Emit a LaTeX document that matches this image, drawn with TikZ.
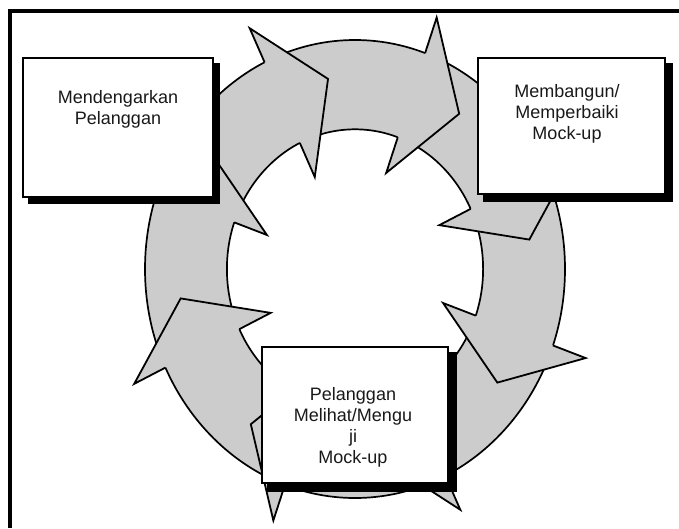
\documentclass[tikz,border=0pt]{standalone}
\usepackage{fontspec}
\setmainfont{Liberation Sans}
\definecolor{ringgrey}{RGB}{204,204,204}
\begin{document}
\begin{tikzpicture}[x=1pt,y=-1pt,
  ringline/.style={draw=black,line width=1.7pt},
  headline/.style={draw=black,line width=1.8pt,line join=miter},
  shadowbox/.style={fill=black},
  stepbox/.style={draw=black,fill=white,line width=2.6pt,inner sep=0pt},
  boxtext/.style={inner sep=0pt,align=center,font=\fontsize{18}{21}\selectfont,text=black!90},
  frameline/.style={draw=black}]
\useasboundingbox (0,0) rectangle (679,528);
% frame
\draw[frameline,line width=4pt] (10,9.5) -- (10,528);
\draw[frameline,line width=3.2pt] (8,11) -- (679,11);
% ring
\fill[ringgrey,even odd rule] (355,269) ellipse [x radius=210, y radius=229]
  (355,269) ellipse [x radius=128.1, y radius=139.7];
\draw[ringline] (355,269) ellipse [x radius=210, y radius=229];
\draw[ringline] (355,269) ellipse [x radius=128.1, y radius=139.7];
% arrow heads
\foreach \k in {0,...,7}{
  \pgfmathsetmacro\angTip{-98.8+45*\k}
  \pgfmathsetmacro\angBase{\angTip-16.7}
  \coordinate (hT) at ({355+210*0.84*cos(\angTip)},{269+229*0.84*sin(\angTip)});
  \coordinate (hOB) at ({355+210*1.165*cos(\angBase)},{269+229*1.165*sin(\angBase)});
  \coordinate (hON) at ({355+210*1.0*cos(\angBase)},{269+229*1.0*sin(\angBase)});
  \coordinate (hIN) at ({355+210*0.61*cos(\angBase)},{269+229*0.61*sin(\angBase)});
  \coordinate (hIB) at ({355+210*0.445*cos(\angBase)},{269+229*0.445*sin(\angBase)});
  \fill[ringgrey] (hON) -- (hOB) -- (hT) -- (hIB) -- (hIN) -- cycle;
  \draw[headline] (hON) -- (hOB) -- (hT) -- (hIB) -- (hIN);
}
% shadows
\fill[shadowbox] (28,63) rectangle (220,204);
\fill[shadowbox] (483,63) rectangle (673,202);
\fill[shadowbox] (267,352) rectangle (457,492);
% boxes
\node[stepbox,minimum width=190pt,minimum height=139pt] (listen) at (118,127.5) {};
\node[stepbox,minimum width=187pt,minimum height=136pt] (build) at (571.5,126) {};
\node[stepbox,minimum width=186pt,minimum height=136pt] (test) at (355,415) {};
% texts
\node[boxtext,anchor=north] (listentext) at (118,90) {Mendengarkan\\Pelanggan};
\node[boxtext,anchor=north] (buildtext) at (567,84) {Membangun/\\Memperbaiki\\Mock-up};
\node[boxtext,anchor=north] (testtext) at (353,387) {Pelanggan\\Melihat/Mengu\\ji\\Mock-up};
\end{tikzpicture}
\end{document}
